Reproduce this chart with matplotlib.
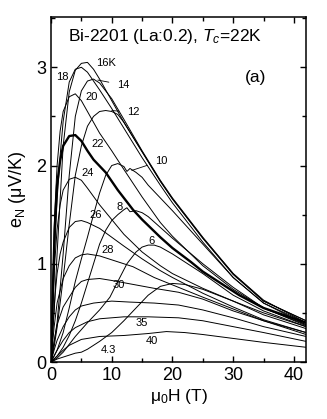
import matplotlib
matplotlib.use("Agg")
import matplotlib.pyplot as plt
from matplotlib.ticker import MultipleLocator

plt.rcParams['font.family'] = ['Liberation Sans', 'DejaVu Sans']
plt.rcParams['mathtext.fontset'] = 'custom'
plt.rcParams['mathtext.rm'] = 'Liberation Sans'
plt.rcParams['mathtext.it'] = 'Liberation Sans:italic'

# field mu0H (T) and Nernst signal e_N (uV/K) per temperature
H_4p3 = [0, 1, 2, 3, 4, 5, 6, 7, 8, 10, 12, 14, 16, 18, 20, 22, 25, 30, 35, 42]
e_4p3 = [0, 0.03, 0.05, 0.07, 0.09, 0.10, 0.13, 0.17, 0.21, 0.30, 0.42, 0.55, 0.68, 0.77, 0.80, 0.79, 0.74, 0.62, 0.50, 0.36]

H_6 = [0, 1, 2, 3, 4, 5, 6, 8, 9.7, 11, 12.5, 14, 15, 16, 17, 18, 20, 25, 30, 35, 42]
e_6 = [0, 0.04, 0.10, 0.18, 0.26, 0.33, 0.40, 0.53, 0.66, 0.82, 1.00, 1.12, 1.17, 1.19, 1.19, 1.17, 1.10, 0.90, 0.68, 0.52, 0.36]

H_8 = [0, 1, 2, 3, 4, 5, 6, 7, 8, 9, 10, 11, 12, 12.5, 13, 14, 15, 16, 18, 20, 25, 30, 35, 42]
e_8 = [0, 0.06, 0.15, 0.27, 0.42, 0.60, 0.80, 1.00, 1.20, 1.34, 1.44, 1.50, 1.55, 1.57, 1.53, 1.54, 1.52, 1.48, 1.37, 1.26, 1.00, 0.76, 0.55, 0.37]

H_10 = [0, 1, 2, 3, 4, 5, 6, 7, 8, 9, 10, 11, 12, 12.5, 13, 14, 15, 16, 18, 20, 25, 30, 35, 42]
e_10 = [0, 0.12, 0.30, 0.55, 0.82, 1.05, 1.27, 1.50, 1.72, 1.90, 2.00, 2.02, 1.99, 1.94, 1.97, 1.93, 1.88, 1.80, 1.67, 1.54, 1.20, 0.86, 0.60, 0.40]

H_12 = [0, 0.5, 1, 2, 3, 4, 5, 6, 7, 8, 9, 10, 11, 12, 15, 18, 20, 25, 30, 35, 42]
e_12 = [0, 0.15, 0.35, 0.85, 1.40, 1.90, 2.20, 2.40, 2.50, 2.55, 2.56, 2.55, 2.52, 2.44, 2.14, 1.84, 1.66, 1.26, 0.89, 0.62, 0.42]

H_14 = [0, 1, 2, 3, 4, 5, 6, 7, 8, 10, 12, 15, 18, 20, 25, 30, 35, 42]
e_14 = [0, 0.40, 1.10, 1.90, 2.50, 2.76, 2.86, 2.88, 2.84, 2.68, 2.47, 2.15, 1.85, 1.67, 1.27, 0.90, 0.62, 0.42]

H_16 = [0, 0.5, 1, 2, 3, 4, 5, 6, 7, 8, 10, 12, 15, 18, 20, 25, 30, 35, 42]
e_16 = [0, 0.50, 1.10, 2.20, 2.75, 2.97, 3.04, 3.05, 2.98, 2.88, 2.66, 2.44, 2.14, 1.84, 1.66, 1.26, 0.90, 0.63, 0.40]

H_18 = [0, 0.3, 0.6, 1, 1.5, 2, 3, 4, 5, 6, 7, 8, 10, 12, 15, 18, 20, 25, 30, 35, 42]
e_18 = [0, 0.60, 1.15, 1.65, 2.10, 2.45, 2.85, 2.98, 3.00, 2.95, 2.86, 2.77, 2.58, 2.38, 2.08, 1.80, 1.62, 1.22, 0.86, 0.60, 0.38]

H_20 = [0, 0.3, 0.6, 1, 1.5, 2, 3, 4, 5, 6, 7, 8, 10, 12, 15, 18, 20, 25, 30, 35, 42]
e_20 = [0, 0.80, 1.50, 2.00, 2.35, 2.55, 2.70, 2.73, 2.66, 2.55, 2.44, 2.33, 2.15, 1.96, 1.68, 1.42, 1.28, 0.98, 0.74, 0.55, 0.38]

H_22 = [0, 0.3, 0.6, 1, 1.5, 2, 3, 4, 5, 6, 7, 9, 11, 13.5, 15, 18, 20, 23, 25, 28, 31, 35, 42]
e_22 = [0, 0.70, 1.35, 1.80, 2.05, 2.20, 2.30, 2.31, 2.25, 2.15, 2.06, 1.93, 1.75, 1.55, 1.45, 1.27, 1.16, 1.02, 0.92, 0.80, 0.68, 0.55, 0.40]

H_24 = [0, 0.3, 0.6, 1, 1.5, 2, 3, 4, 5, 6, 8, 10, 12, 15, 18, 20, 25, 30, 35, 42]
e_24 = [0, 0.55, 1.00, 1.35, 1.60, 1.75, 1.86, 1.88, 1.85, 1.77, 1.60, 1.45, 1.30, 1.12, 0.98, 0.90, 0.75, 0.62, 0.48, 0.34]

H_26 = [0, 0.3, 0.7, 1, 1.5, 2, 3, 4, 5, 6, 8, 10, 12, 15, 18, 20, 25, 30, 35, 42]
e_26 = [0, 0.35, 0.70, 0.90, 1.10, 1.22, 1.37, 1.43, 1.44, 1.42, 1.36, 1.27, 1.18, 1.05, 0.93, 0.86, 0.70, 0.56, 0.43, 0.30]

H_28 = [0, 0.5, 1, 2, 3, 4, 5, 6, 8, 10, 13.5, 17, 21, 25, 30, 35, 42]
e_28 = [0, 0.35, 0.60, 0.85, 0.98, 1.06, 1.09, 1.10, 1.08, 1.04, 0.97, 0.86, 0.76, 0.66, 0.54, 0.42, 0.28]

H_30 = [0, 0.5, 1, 2, 3, 4, 5, 6, 8, 10, 13.5, 17, 21, 25, 30, 35, 42]
e_30 = [0, 0.20, 0.38, 0.56, 0.66, 0.76, 0.82, 0.84, 0.85, 0.83, 0.79, 0.75, 0.71, 0.64, 0.52, 0.42, 0.30]

H_32 = [0, 0.5, 1, 2, 3, 4, 5, 7, 10, 13, 17, 21, 25, 30, 35, 42]
e_32 = [0, 0.12, 0.22, 0.36, 0.46, 0.53, 0.57, 0.60, 0.62, 0.61, 0.60, 0.58, 0.53, 0.45, 0.36, 0.26]

H_35 = [0, 1, 2, 3, 4, 6, 8, 12, 16, 21, 25, 30, 35, 42]
e_35 = [0, 0.12, 0.22, 0.30, 0.35, 0.41, 0.44, 0.46, 0.46, 0.45, 0.42, 0.36, 0.30, 0.21]

H_40 = [0, 1, 2, 3, 5, 8, 12, 16, 19, 22, 25, 30, 35, 42]
e_40 = [0, 0.06, 0.12, 0.17, 0.23, 0.26, 0.27, 0.29, 0.31, 0.30, 0.28, 0.24, 0.20, 0.15]

series = [(H_4p3, e_4p3), (H_6, e_6), (H_8, e_8), (H_10, e_10), (H_12, e_12),
          (H_14, e_14), (H_16, e_16), (H_18, e_18), (H_20, e_20), (H_22, e_22),
          (H_24, e_24), (H_26, e_26), (H_28, e_28), (H_30, e_30), (H_32, e_32),
          (H_35, e_35), (H_40, e_40)]

# curve labels: text, position (H, e)
lab_text = ["4.3", "6", "8", "24", "26", "28", "30", "35", "40", "18", "16K", "20", "22"]
lab_H = [9.4, 16.6, 11.3, 6.1, 7.4, 9.4, 11.2, 15.0, 16.6, 1.8, 9.1, 6.7, 7.7]
lab_e = [0.12, 1.23, 1.58, 1.92, 1.50, 1.14, 0.78, 0.40, 0.21, 2.90, 3.04, 2.70, 2.22]

# labels with leader lines: text, text position, curve point
lead_text = ["14", "12", "10"]
lead_H = [11.9, 13.6, 18.2]
lead_e = [2.82, 2.54, 2.05]
lead_toH = [7.7, 10.0, 13.3]
lead_toe = [2.87, 2.56, 1.95]

fig = plt.figure(figsize=(3.27, 4.19), dpi=100)
ax = fig.add_axes([0.156, 0.136, 0.780, 0.823])

for H, e in series:
    lw = 1.7 if e is e_22 else 0.7
    ax.plot(H, e, color='black', lw=lw)

for t, x, y in zip(lab_text, lab_H, lab_e):
    ax.text(x, y, t, fontsize=8, ha='center', va='center')

for t, x, y, x0, y0 in zip(lead_text, lead_H, lead_e, lead_toH, lead_toe):
    ax.annotate(t, xy=(x0, y0), xytext=(x, y), fontsize=8, ha='center', va='center',
                arrowprops=dict(arrowstyle='-', lw=0.6, color='black', shrinkA=4, shrinkB=0))

ax.text(2.8, 3.31, r"Bi-2201 (La:0.2), $T_c$=22K", fontsize=12.5, va='center')
ax.text(33.7, 2.9, "(a)", fontsize=12.5, ha='center', va='center')

ax.set_xlim(0, 42)
ax.set_ylim(0, 3.51)
ax.xaxis.set_major_locator(MultipleLocator(10))
ax.xaxis.set_minor_locator(MultipleLocator(5))
ax.yaxis.set_major_locator(MultipleLocator(1))
ax.yaxis.set_minor_locator(MultipleLocator(0.5))
ax.tick_params(which='both', direction='in', top=True, right=True, labelsize=13, width=1)
ax.tick_params(which='major', length=4.5)
ax.tick_params(which='minor', length=3)
for s in ax.spines.values():
    s.set_linewidth(1.1)

ax.set_xlabel(r"$\mathrm{\mu_0}$H (T)", fontsize=12.5, labelpad=2)
ax.set_ylabel(r"e$_\mathrm{N}$ ($\mathrm{\mu}$V/K)", fontsize=13, labelpad=6)

fig.savefig("out.png", dpi=100)
